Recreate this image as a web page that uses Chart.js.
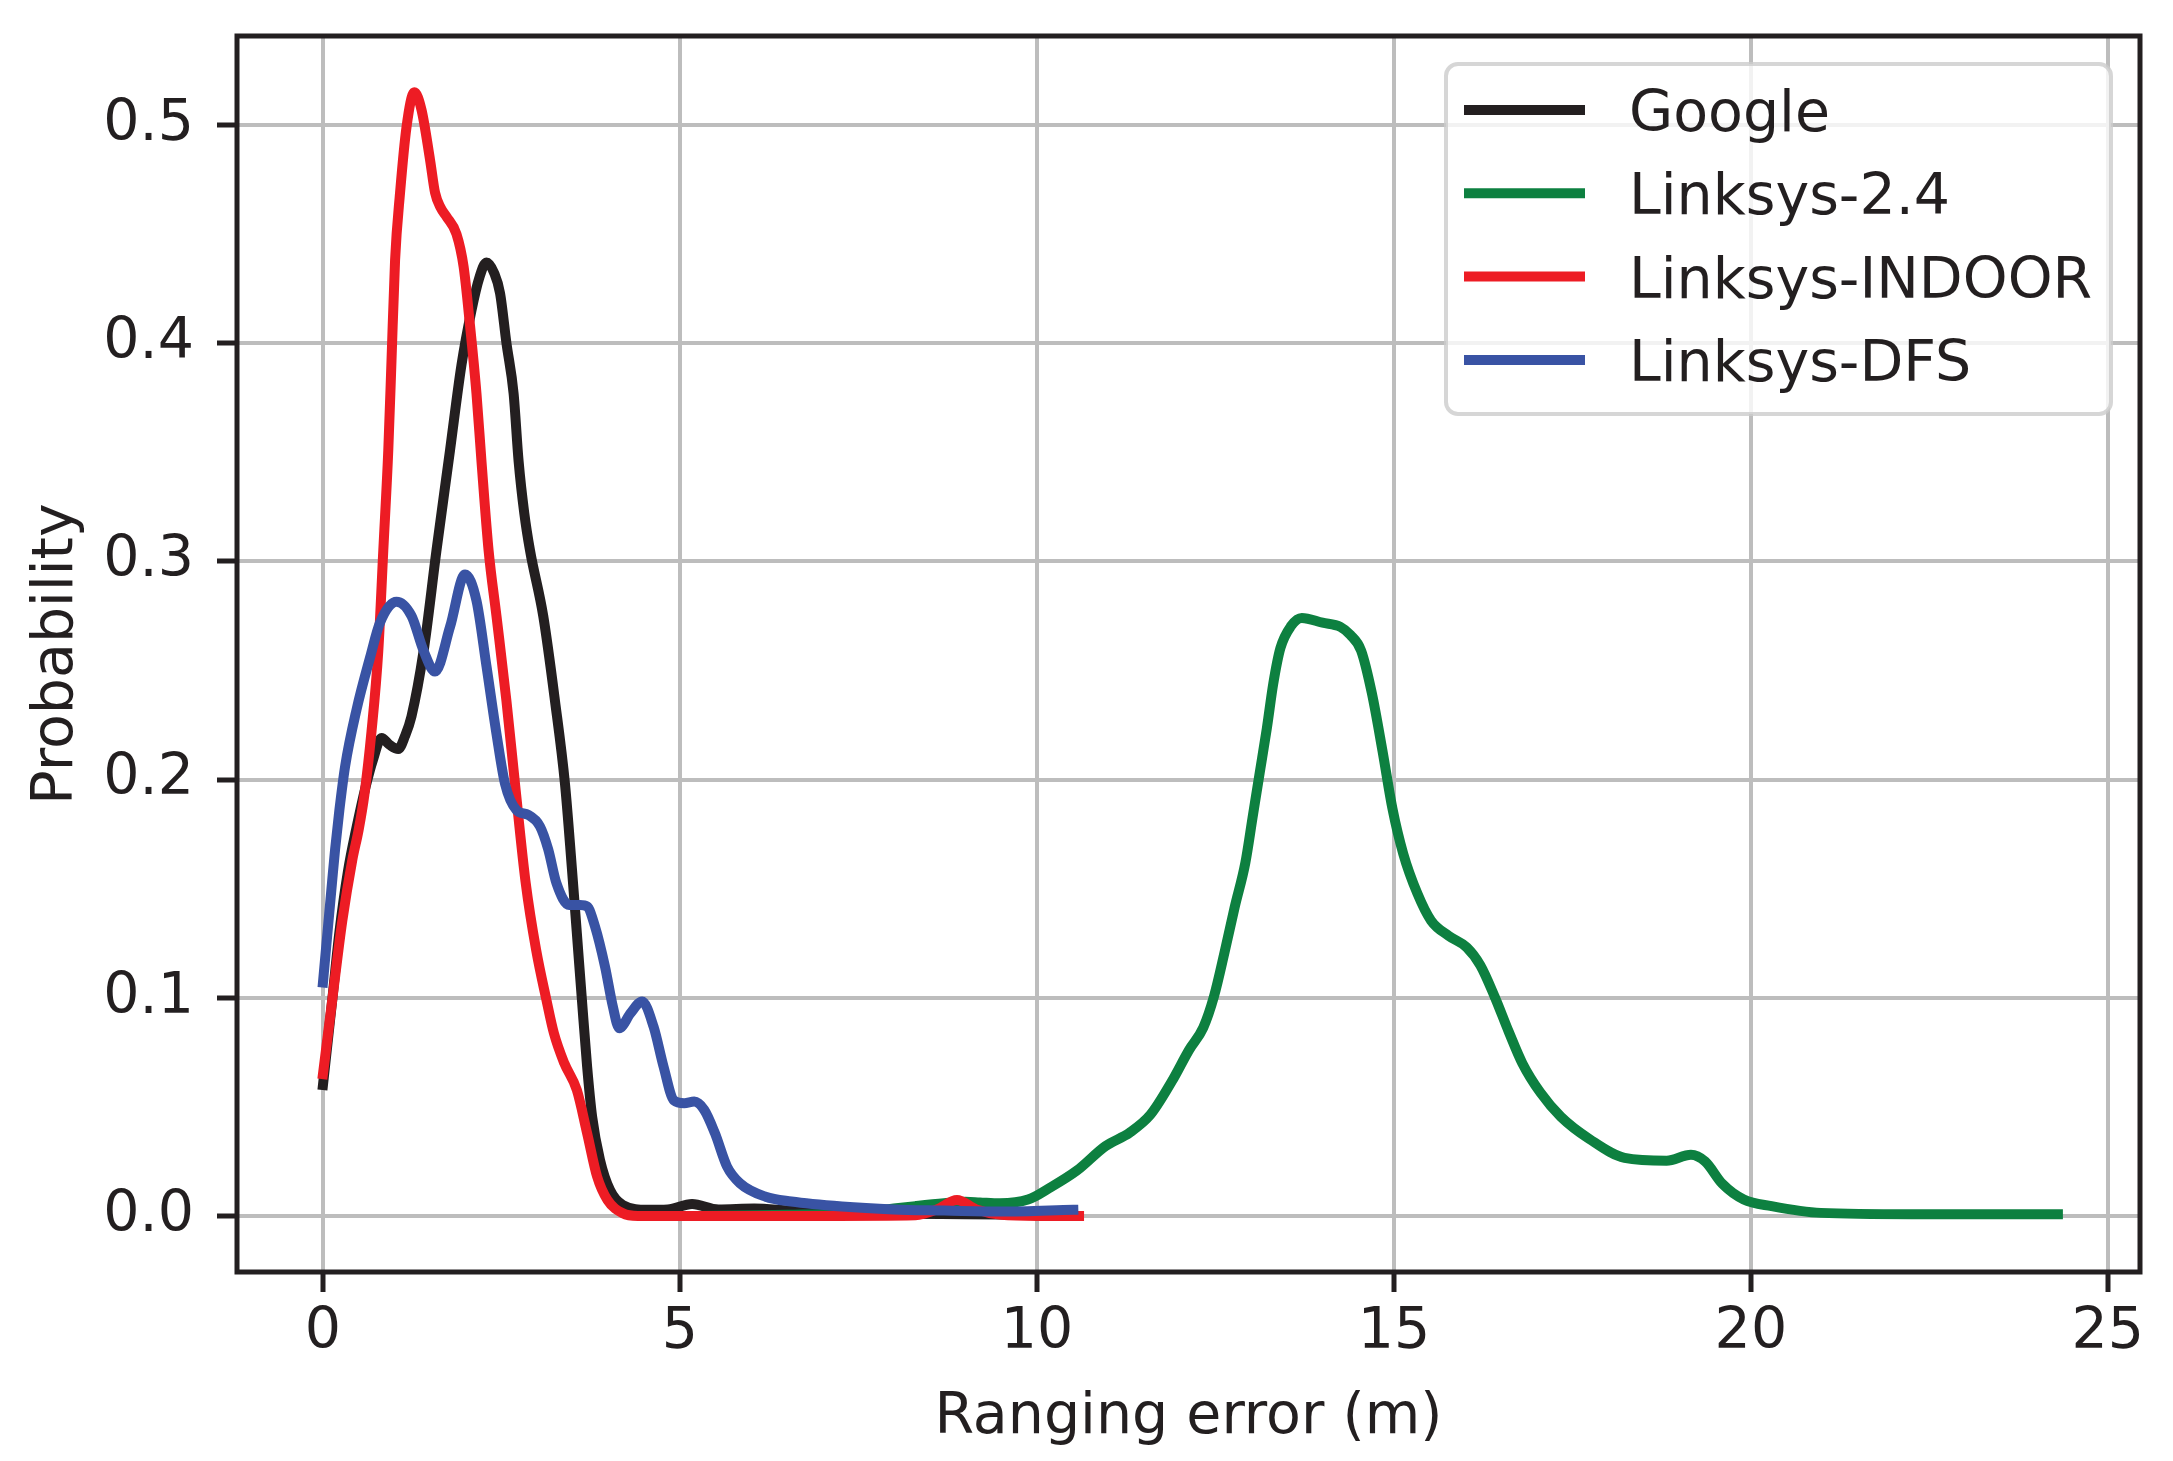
<!DOCTYPE html>
<html>
<head>
<meta charset="utf-8">
<title>Ranging error</title>
<script src="https://cdn.jsdelivr.net/npm/chart.js@4/dist/chart.umd.min.js"></script>
<style>
  html, body { margin: 0; padding: 0; background: #fff; }
  #wrap { width: 2173px; height: 1461px; }
</style>
</head>
<body>
<div id="wrap"><canvas id="chart" width="2173" height="1461"></canvas></div>
<script>
// ========================== Data ==========================
const seriesNames = ['Google', 'Linksys-2.4', 'Linksys-INDOOR', 'Linksys-DFS'];
const xTicks = [0, 5, 10, 15, 20, 25];
const yTicks = [0, 0.1, 0.2, 0.3, 0.4, 0.5];

const googleX = [0, 0.13, 0.23, 0.35, 0.47, 0.6, 0.7, 0.82, 0.93, 1.055, 1.15, 1.24, 1.41, 1.59, 1.78, 1.94, 2.08, 2.19, 2.29, 2.40, 2.48, 2.57, 2.67, 2.74, 2.82, 2.90, 3.085, 3.25, 3.39, 3.485, 3.556, 3.627, 3.70, 3.77, 3.88, 4.02, 4.2, 4.55, 4.83, 5.17, 5.54, 6.04, 6.54, 7.25, 8.0, 9.0, 10.3];
const googleY = [0.06, 0.099, 0.13, 0.158, 0.178, 0.197, 0.209, 0.219, 0.216, 0.214, 0.22, 0.229, 0.259, 0.305, 0.351, 0.39, 0.415, 0.43, 0.437, 0.432, 0.423, 0.400, 0.377, 0.346, 0.322, 0.305, 0.275, 0.236, 0.198, 0.160, 0.1296, 0.099, 0.0684, 0.0455, 0.0257, 0.0119, 0.005, 0.0028, 0.003, 0.0055, 0.003, 0.0034, 0.0025, 0.0015, 0.001, 0.0008, 0.0005];

const g24X = [5.0, 6.5, 7.5, 7.92, 8.3, 8.70, 9.0, 9.2, 9.48, 9.875, 10.17, 10.56, 10.96, 11.3, 11.59, 11.89, 12.13, 12.33, 12.48, 12.63, 12.77, 12.92, 13.02, 13.12, 13.22, 13.31, 13.41, 13.56, 13.71, 14.0, 14.25, 14.39, 14.54, 14.69, 14.84, 14.98, 15.13, 15.33, 15.52, 15.77, 16.02, 16.21, 16.41, 16.61, 16.80, 17.05, 17.34, 17.74, 18.23, 18.82, 19.16, 19.36, 19.60, 19.90, 20.29, 20.98, 22.25, 24.3];
const g24Y = [0, 0.0005, 0.0015, 0.0031, 0.0045, 0.0058, 0.0065, 0.0062, 0.0058, 0.0075, 0.0127, 0.0208, 0.032, 0.0382, 0.0464, 0.0617, 0.076, 0.0863, 0.1006, 0.1211, 0.1415, 0.162, 0.1825, 0.203, 0.2234, 0.2439, 0.2602, 0.2704, 0.2741, 0.2719, 0.270, 0.2663, 0.2592, 0.2398, 0.2132, 0.1866, 0.1661, 0.1477, 0.1354, 0.1283, 0.1231, 0.1149, 0.1006, 0.0843, 0.0699, 0.0566, 0.0454, 0.0352, 0.0266, 0.0253, 0.028, 0.0249, 0.0147, 0.0075, 0.0045, 0.0014, 0.0008, 0.0008];

const indoorX = [0, 0.13, 0.27, 0.41, 0.50, 0.58, 0.68, 0.775, 0.845, 0.915, 0.96, 1.01, 1.08, 1.17, 1.28, 1.38, 1.50, 1.57, 1.65, 1.73, 1.87, 1.97, 2.06, 2.15, 2.22, 2.32, 2.43, 2.57, 2.69, 2.84, 2.985, 3.13, 3.235, 3.38, 3.556, 3.70, 3.84, 3.985, 4.2, 4.41, 5.5, 7.0, 8.3, 8.6, 8.88, 9.15, 9.5, 10.0, 10.59];
const indoorY = [0.065, 0.099, 0.135, 0.163, 0.177, 0.193, 0.222, 0.259, 0.305, 0.351, 0.392, 0.438, 0.469, 0.499, 0.515, 0.507, 0.484, 0.469, 0.462, 0.458, 0.450, 0.435, 0.408, 0.377, 0.346, 0.305, 0.275, 0.236, 0.198, 0.1525, 0.122, 0.099, 0.0837, 0.070, 0.0577, 0.0379, 0.018, 0.0073, 0.0012, 0, 0, 0, 0.0003, 0.003, 0.0073, 0.003, 0.0005, 0, 0];

const dfsX = [0, 0.126, 0.17, 0.23, 0.31, 0.47, 0.66, 0.80, 1.03, 1.24, 1.41, 1.57, 1.78, 1.99, 2.15, 2.29, 2.43, 2.55, 2.71, 2.875, 3.04, 3.155, 3.27, 3.45, 3.60, 3.70, 3.81, 3.95, 4.06, 4.15, 4.31, 4.47, 4.63, 4.77, 4.915, 5.06, 5.20, 5.34, 5.49, 5.66, 5.84, 6.20, 6.56, 7.27, 7.99, 8.7, 9.5, 10.51];
const dfsY = [0.107, 0.1525, 0.168, 0.186, 0.206, 0.232, 0.256, 0.272, 0.2815, 0.275, 0.259, 0.2495, 0.270, 0.294, 0.282, 0.252, 0.221, 0.198, 0.186, 0.1838, 0.1785, 0.168, 0.1525, 0.1425, 0.1425, 0.1418, 0.1327, 0.1143, 0.096, 0.086, 0.093, 0.0983, 0.0868, 0.0685, 0.053, 0.0517, 0.0524, 0.0486, 0.0379, 0.0226, 0.015, 0.0088, 0.0066, 0.0043, 0.003, 0.0025, 0.002, 0.0028];

// ========================== Style ==========================
const FONT = 'DejaVu Sans';
const FONT_SIZE = 57;
const INK = '#231f20';
const colors = ['#231f20', '#0d8040', '#ed1c24', '#3953a4'];

const toPoints = (xs, ys) => xs.map((x, i) => ({ x, y: ys[i] }));

const seriesData = [
  toPoints(googleX, googleY),
  toPoints(g24X, g24Y),
  toPoints(indoorX, indoorY),
  toPoints(dfsX, dfsY)
];

// ========================== Plugins ==========================
// full box of spines (matplotlib style), drawn over the lines
const frame = {
  id: 'frame',
  afterDatasetsDraw(chart) {
    const { ctx, chartArea: a } = chart;
    ctx.save();
    ctx.strokeStyle = INK;
    ctx.lineWidth = 5;
    ctx.strokeRect(a.left, a.top, a.right - a.left, a.bottom - a.top);
    ctx.restore();
  }
};

// legend box in the upper right corner
const boxLegend = {
  id: 'boxLegend',
  afterDraw(chart) {
    const ctx = chart.ctx;
    const x = 1446, y = 64, w = 665, h = 350, r = 12;
    ctx.save();
    ctx.beginPath();
    ctx.roundRect(x, y, w, h, r);
    ctx.fillStyle = 'rgba(255,255,255,0.8)';
    ctx.fill();
    ctx.lineWidth = 4;
    ctx.strokeStyle = 'rgba(204,204,204,0.8)';
    ctx.stroke();

    ctx.font = `${FONT_SIZE}px "${FONT}"`;
    ctx.textBaseline = 'alphabetic';
    ctx.textAlign = 'left';
    chart.data.datasets.forEach((ds, i) => {
      const ly = 110 + i * 83.3;
      ctx.beginPath();
      ctx.moveTo(1464, ly);
      ctx.lineTo(1585, ly);
      ctx.lineWidth = 10;
      ctx.lineCap = 'butt';
      ctx.strokeStyle = ds.borderColor;
      ctx.stroke();
      ctx.fillStyle = INK;
      ctx.fillText(ds.label, 1629, ly + 21);
    });
    ctx.restore();
  }
};

// ========================== Chart ==========================
const drawOrder = [4, 3, 2, 1];

new Chart(document.getElementById('chart'), {
  type: 'line',
  data: {
    datasets: seriesNames.map((name, i) => ({
      label: name,
      data: seriesData[i],
      borderColor: colors[i],
      backgroundColor: colors[i],
      borderWidth: 10,
      pointRadius: 0,
      fill: false,
      cubicInterpolationMode: 'monotone',
      borderCapStyle: 'square',
      borderJoinStyle: 'round',
      order: drawOrder[i]
    }))
  },
  options: {
    responsive: false,
    animation: false,
    layout: { padding: { top: 36, right: 33, left: 0, bottom: 0 } },
    plugins: {
      legend: { display: false },
      tooltip: { enabled: false }
    },
    scales: {
      x: {
        type: 'linear',
        min: -1.204,
        max: 25.45,
        afterBuildTicks: s => { s.ticks = xTicks.map(v => ({ value: v })); },
        afterFit: s => {
          s.height = 189;
          s.paddingLeft = 0;
          s.paddingRight = 0;
        },
        border: { display: false },
        grid: { color: '#bdbdbd', lineWidth: 4, tickColor: INK, tickWidth: 5, tickLength: 20 },
        ticks: { color: INK, font: { family: FONT, size: FONT_SIZE }, padding: 7, maxRotation: 0 },
        title: {
          display: true,
          text: 'Ranging error (m)',
          color: INK,
          font: { family: FONT, size: FONT_SIZE },
          padding: { top: 0, bottom: 9 }
        }
      },
      y: {
        type: 'linear',
        min: -0.0257,
        max: 0.5408,
        afterBuildTicks: s => { s.ticks = yTicks.map(v => ({ value: v })); },
        afterFit: s => {
          s.width = 237;
          s.paddingTop = 0;
          s.paddingBottom = 0;
        },
        border: { display: false },
        grid: { color: '#bdbdbd', lineWidth: 4, tickColor: INK, tickWidth: 5, tickLength: 20 },
        ticks: {
          color: INK,
          font: { family: FONT, size: FONT_SIZE },
          padding: 23,
          callback: v => v.toFixed(1)
        },
        title: {
          display: true,
          text: 'Probability',
          color: INK,
          font: { family: FONT, size: FONT_SIZE },
          padding: { top: 23, bottom: 0 }
        }
      }
    }
  },
  plugins: [frame, boxLegend]
});
</script>
</body>
</html>
